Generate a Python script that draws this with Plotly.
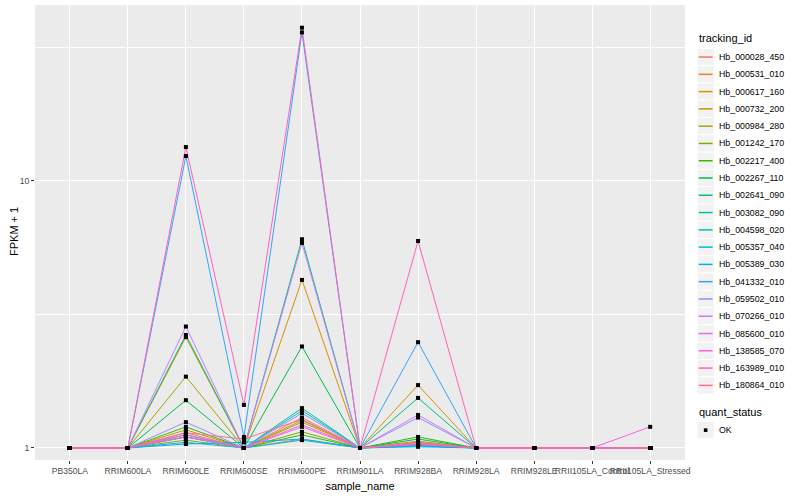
import plotly.graph_objects as go

samples = ["PB350LA", "RRIM600LA", "RRIM600LE", "RRIM600SE", "RRIM600PE", "RRIM901LA",
           "RRIM928BA", "RRIM928LA", "RRIM928LE", "RRII105LA_Control", "RRII105LA_Stressed"]

tracking_ids = ["Hb_000028_450", "Hb_000531_010", "Hb_000617_160", "Hb_000732_200", "Hb_000984_280",
                "Hb_001242_170", "Hb_002217_400", "Hb_002267_110", "Hb_002641_090", "Hb_003082_090",
                "Hb_004598_020", "Hb_005357_040", "Hb_005389_030", "Hb_041332_010", "Hb_059502_010",
                "Hb_070266_010", "Hb_085600_010", "Hb_138585_070", "Hb_163989_010", "Hb_180864_010"]

colors = ["#F8766D", "#EA8331", "#D89000", "#C09B00", "#A3A500", "#7CAE00", "#39B600", "#00BB4E",
          "#00BF7D", "#00C1A3", "#00BFC4", "#00BAE0", "#00B0F6", "#35A2FF", "#9590FF", "#C77CFF",
          "#E76BF3", "#FA62DB", "#FF62BC", "#FF6C91"]

quant_status = ["OK"]

# FPKM + 1 per gene, in the order of `samples`
hb_000028_450 = [1, 1, 1.14, 1, 1.30, 1, 1.04, 1, 1, 1, 1]
hb_000531_010 = [1, 1, 1.10, 1, 1.08, 1, 1.03, 1, 1, 1, 1]
hb_000617_160 = [1, 1, 2.60, 1, 4.26, 1, 1.72, 1, 1, 1, 1]
hb_000732_200 = [1, 1, 1.17, 1, 1.25, 1, 1.05, 1, 1, 1, 1]
hb_000984_280 = [1, 1, 1.85, 1, 1.27, 1, 1.06, 1, 1, 1, 1]
hb_001242_170 = [1, 1, 1.07, 1, 1.15, 1, 1.02, 1, 1, 1, 1]
hb_002217_400 = [1, 1, 1.20, 1, 1.12, 1, 1.10, 1, 1, 1, 1]
hb_002267_110 = [1, 1, 1.51, 1, 2.40, 1, 1.08, 1, 1, 1, 1]
hb_002641_090 = [1, 1, 2.65, 1, 6.05, 1, 1.54, 1, 1, 1, 1]
hb_003082_090 = [1, 1, 1.12, 1, 1.41, 1, 1.03, 1, 1, 1, 1]
hb_004598_020 = [1, 1, 1.10, 1, 1.38, 1, 1.02, 1, 1, 1, 1]
hb_005357_040 = [1, 1, 1.05, 1, 1.07, 1, 1.01, 1, 1, 1, 1]
hb_005389_030 = [1, 1, 1.035, 1.05, 1.08, 1, 1.02, 1, 1, 1, 1]
hb_041332_010 = [1, 1, 12.4, 1.10, 36.0, 1, 2.49, 1, 1, 1, 1]
hb_059502_010 = [1, 1, 1.25, 1, 1.35, 1, 1.30, 1, 1, 1, 1]
hb_070266_010 = [1, 1, 2.85, 1, 5.86, 1, 1.33, 1, 1, 1, 1]
hb_085600_010 = [1, 1, 1.12, 1, 1.20, 1, 1.04, 1, 1, 1, 1]
hb_138585_070 = [1, 1, 1.10, 1, 1.22, 1, 1.03, 1, 1, 1, 1.2]
hb_163989_010 = [1, 1, 13.4, 1.45, 37.5, 1, 5.96, 1, 1, 1, 1]
hb_180864_010 = [1, 1, 1.14, 1.08, 1.28, 1, 1.05, 1, 1, 1, 1]

series = [hb_000028_450, hb_000531_010, hb_000617_160, hb_000732_200, hb_000984_280,
          hb_001242_170, hb_002217_400, hb_002267_110, hb_002641_090, hb_003082_090,
          hb_004598_020, hb_005357_040, hb_005389_030, hb_041332_010, hb_059502_010,
          hb_070266_010, hb_085600_010, hb_138585_070, hb_163989_010, hb_180864_010]

font = "Liberation Sans, Arial, sans-serif"
W, H = 800, 500
L, R, T, B = 35, 115, 5, 40
pw, ph = W - L - R, H - T - B


def pxx(x):  # pixel x -> paper x
    return (x - L) / pw


def pxy(y):  # pixel y -> paper y
    return (H - B - y) / ph


fig = go.Figure()

for tid, vals, col in zip(tracking_ids, series, colors):
    fig.add_trace(go.Scatter(x=samples, y=vals, mode="lines", name=tid,
                             line=dict(color=col, width=1), showlegend=False))

px, py = [], []
for vals in series:
    px.extend(samples)
    py.extend(vals)
fig.add_trace(go.Scatter(x=px, y=py, mode="markers", name=quant_status[0],
                         marker=dict(symbol="square", size=4, color="black"), showlegend=False))

# ---- legend drawn in ggplot style ----
shapes, annots = [], []
lx0, key = 697, 17.28
annots.append(dict(text="tracking_id", x=pxx(lx0), y=pxy(38), xref="paper", yref="paper",
                   xanchor="left", yanchor="middle", showarrow=False,
                   font=dict(size=11, color="black", family=font)))
y0 = 48.4
for i, (tid, col) in enumerate(zip(tracking_ids, colors)):
    top = y0 + i * key
    cy = top + key / 2
    shapes.append(dict(type="rect", xref="paper", yref="paper", x0=pxx(lx0), x1=pxx(lx0 + key),
                       y0=pxy(top), y1=pxy(top + key), fillcolor="#F2F2F2",
                       line=dict(color="white", width=1), layer="above"))
    shapes.append(dict(type="line", xref="paper", yref="paper", x0=pxx(lx0 + 1.7), x1=pxx(lx0 + key - 1.7),
                       y0=pxy(cy), y1=pxy(cy), line=dict(color=col, width=1.5), layer="above"))
    annots.append(dict(text=tid, x=pxx(lx0 + key + 3), y=pxy(cy), xref="paper", yref="paper",
                       xanchor="left", yanchor="middle", showarrow=False,
                       font=dict(size=8.8, color="black", family=font)))

annots.append(dict(text="quant_status", x=pxx(lx0), y=pxy(412), xref="paper", yref="paper",
                   xanchor="left", yanchor="middle", showarrow=False,
                   font=dict(size=11, color="black", family=font)))
top = 421.5
cy = top + key / 2
shapes.append(dict(type="rect", xref="paper", yref="paper", x0=pxx(lx0), x1=pxx(lx0 + key),
                   y0=pxy(top), y1=pxy(top + key), fillcolor="#F2F2F2",
                   line=dict(color="white", width=1), layer="above"))
shapes.append(dict(type="rect", xref="paper", yref="paper", x0=pxx(lx0 + key / 2 - 1.8),
                   x1=pxx(lx0 + key / 2 + 1.8), y0=pxy(cy - 1.8), y1=pxy(cy + 1.8),
                   fillcolor="black", line=dict(width=0), layer="above"))
annots.append(dict(text=quant_status[0], x=pxx(lx0 + key + 3), y=pxy(cy), xref="paper", yref="paper",
                   xanchor="left", yanchor="middle", showarrow=False,
                   font=dict(size=8.8, color="black", family=font)))

# y-axis title
annots.append(dict(text="FPKM + 1", x=pxx(14), y=pxy(232), xref="paper", yref="paper",
                   xanchor="center", yanchor="middle", textangle=-90, showarrow=False,
                   font=dict(size=11, color="black", family=font)))

fig.update_layout(
    width=W, height=H,
    margin=dict(l=L, r=R, t=T, b=B, autoexpand=False),
    paper_bgcolor="white", plot_bgcolor="#EBEBEB",
    font=dict(family=font, size=9, color="#4D4D4D"),
    showlegend=False, shapes=shapes, annotations=annots,
)
fig.update_xaxes(
    type="category", range=[-0.6, 10.6], showgrid=True, gridcolor="white", gridwidth=1,
    ticks="outside", ticklen=3, tickcolor="#333333", tickangle=0,
    tickfont=dict(size=8.6, color="#4D4D4D"), zeroline=False, showline=False,
    title=dict(text="sample_name", font=dict(size=11, color="black"), standoff=6),
)
fig.update_yaxes(
    type="log", range=[-0.045, 1.659], tickvals=[1, 10], ticktext=["1", "10"],
    showgrid=True, gridcolor="white", gridwidth=1,
    minor=dict(tickvals=[3.1623, 31.623], showgrid=True, gridcolor="white", gridwidth=0.5, ticklen=0),
    ticks="outside", ticklen=3, tickcolor="#333333",
    tickfont=dict(size=8.6, color="#4D4D4D"), zeroline=False, showline=False,
)

fig.write_html("out.html", config={"displayModeBar": False},
               post_script="document.body.style.margin='0';")
